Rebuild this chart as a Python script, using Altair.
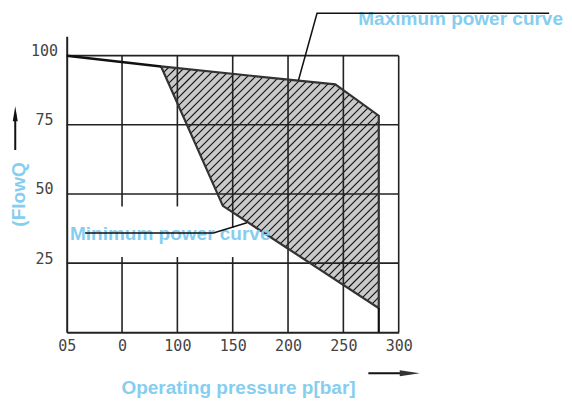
import altair as alt
import pandas as pd

BLUE = "#86cef0"
GRID = "#222222"

# ---- data ----
x_ticks = [0, 50, 100, 150, 200, 250, 300]
x_tick_labels = ["05", "0", "100", "150", "200", "250", "300"]
y_ticks = [25, 50, 75, 100]

# operating region polygon (pressure bar, flow %)
poly_x = [85.3, 242.7, 282.0, 282.0, 141.1]
poly_y = [96.1, 89.6, 78.3, 8.7, 45.7]

# flat start of curve and right-edge drop to axis
top_x = [0, 85.3]
top_y = [100, 96.1]
edge_x = [282.0, 282.0]
edge_y = [8.7, 0]

# vertical grid segments (with gaps behind the annotation)
vgrid_x = [50, 50, 100, 100, 150, 150, 200, 250, 300]
vgrid_y0 = [0, 45.5, 0, 45.5, 0, 37.7, 0, 0, 0]
vgrid_y1 = [27.2, 100, 27.2, 100, 27.2, 100, 100, 100, 100]

# leader lines
max_leader_x = [209.5, 226.2, 436.0]
max_leader_y = [91.2, 115.3, 115.3]
min_leader_x = [16.6, 132.6, 162.8]
min_leader_y = [35.9, 35.9, 39.6]

labels = ["Maximum power curve", "Minimum power curve"]
label_x = [263.5, 3.0]
label_y = [111.1, 33.4]

# axis arrows
yarrow_x = [-46.5, -46.5]
yarrow_y = [65.9, 79.0]
xarrow_x = [272.6, 310.0]
xarrow_y = [-14.8, -14.8]

W, H = 332, 296
XD = [0, 300]
YD = [0, 107]
SX, SY = W / XD[1], H / YD[1]

# ---- tables ----
poly_df = pd.DataFrame({"x": poly_x + poly_x[:1], "y": poly_y + poly_y[:1],
                        "o": list(range(len(poly_x) + 1))})
top_df = pd.DataFrame({"x": top_x, "y": top_y})
edge_df = pd.DataFrame({"x": edge_x, "y": edge_y})
hgrid_df = pd.DataFrame({"y": y_ticks, "x": [XD[0]] * len(y_ticks), "x2": [XD[1]] * len(y_ticks)})
vgrid_df = pd.DataFrame({"x": vgrid_x, "y": vgrid_y0, "y2": vgrid_y1})
lead_df = pd.DataFrame({
    "x": max_leader_x + min_leader_x,
    "y": max_leader_y + min_leader_y,
    "g": ["max"] * 3 + ["min"] * 3,
    "o": [0, 1, 2, 0, 1, 2],
})
lab_df = pd.DataFrame({"x": label_x, "y": label_y, "t": labels})
yarr_df = pd.DataFrame({"x": yarrow_x, "y": yarrow_y})
xarr_df = pd.DataFrame({"x": xarrow_x, "y": xarrow_y})

# hatch lines clipped to the polygon (45 deg on screen)
px = [v * SX for v in poly_x]
py = [v * SY for v in poly_y]
n = len(px)
d = [py[i] - px[i] for i in range(n)]
segs = []
c = min(d) + 3
while c < max(d):
    pts = []
    for i in range(n):
        j = (i + 1) % n
        fa, fb = d[i] - c, d[j] - c
        if (fa < 0) != (fb < 0):
            t = fa / (fa - fb)
            pts.append((px[i] + t * (px[j] - px[i]), py[i] + t * (py[j] - py[i])))
    if len(pts) >= 2:
        pts.sort()
        (xa, ya), (xb, yb) = pts[0], pts[-1]
        segs.append({"x": xa / SX, "y": ya / SY, "x2": xb / SX, "y2": yb / SY})
    c += 8
hatch_df = pd.DataFrame(segs)

xs = alt.Scale(domain=XD, nice=False, zero=False)
ys = alt.Scale(domain=YD, nice=False, zero=False)

lab_js = "[" + ",".join("'%s'" % s for s in x_tick_labels) + "]"
val_js = "[" + ",".join(str(v) for v in x_ticks) + "]"

x_axis = alt.Axis(
    values=x_ticks, labelExpr=f"{lab_js}[indexof({val_js}, datum.value)]",
    grid=False, ticks=False, tickSize=0, domainColor=GRID, domainWidth=2,
    labelFont="DejaVu Sans Mono", labelFontSize=15, labelColor="#444444",
    labelPadding=6, labelFlush=False, labelOverlap=False,
    title="Operating pressure p[bar]", titleFont="Liberation Sans",
    titleFontSize=19, titleFontWeight="bold", titleColor=BLUE,
    titleX=171.3, titleY=61, titleBaseline="alphabetic", titleAlign="center",
)
y_axis = alt.Axis(
    values=y_ticks, grid=False, ticks=False, tickSize=0, domainColor=GRID,
    domainWidth=2, labelFont="DejaVu Sans Mono", labelFontSize=15,
    labelColor="#444444", labelAlign="center", labelBaseline="alphabetic",
    labelPadding=22.7, labelFlush=False, labelOverlap=False,
    title="(FlowQ", titleFont="Liberation Sans", titleFontSize=19,
    titleFontWeight="bold", titleColor=BLUE, titleAngle=270,
    titleX=-48.5, titleY=157.7, titleBaseline="middle", titleAlign="center",
)


def X(f="x"):
    return alt.X(f"{f}:Q", scale=xs, axis=x_axis)


def Y(f="y"):
    return alt.Y(f"{f}:Q", scale=ys, axis=y_axis)


fill_layer = alt.Chart(poly_df).mark_line(fill="#cacaca", stroke="#cacaca", strokeWidth=0).encode(
    x=X(), y=Y(), order="o:Q",
)
hatch_layer = alt.Chart(hatch_df).mark_rule(color="#111111", strokeWidth=1.1).encode(
    x=X(), y=Y(), x2="x2:Q", y2="y2:Q",
)
hgrid_layer = alt.Chart(hgrid_df).mark_rule(color=GRID, strokeWidth=1.6).encode(
    x=X(), x2="x2:Q", y=Y(),
)
vgrid_layer = alt.Chart(vgrid_df).mark_rule(color=GRID, strokeWidth=1.6).encode(
    x=X(), y=Y(), y2="y2:Q",
)
outline_layer = alt.Chart(poly_df).mark_line(color="#333333", strokeWidth=2.2).encode(
    x=X(), y=Y(), order="o:Q",
)
top_layer = alt.Chart(top_df).mark_line(color="#111111", strokeWidth=2.5).encode(x=X(), y=Y())
edge_layer = alt.Chart(edge_df).mark_line(color="#111111", strokeWidth=2.2).encode(x=X(), y=Y())
text_layer = alt.Chart(lab_df).mark_text(
    align="left", baseline="alphabetic", font="Liberation Sans",
    fontSize=19, fontWeight="bold", color=BLUE, clip=False,
).encode(x=X(), y=Y(), text="t:N")
lead_layer = alt.Chart(lead_df).mark_line(color="#111111", strokeWidth=1.5, clip=False).encode(
    x=X(), y=Y(), detail="g:N", order="o:Q",
)
yarr_line = alt.Chart(yarr_df).mark_line(color="#111111", strokeWidth=2, clip=False).encode(x=X(), y=Y())
yarr_head = alt.Chart(yarr_df.tail(1)).mark_point(
    shape="M0,-1L0.33,1L-0.33,1Z", filled=True, color="#111111", size=225,
    opacity=1, clip=False,
).encode(x=X(), y=Y())
xarr_line = alt.Chart(xarr_df).mark_line(color="#111111", strokeWidth=2, clip=False).encode(x=X(), y=Y())
xarr_head = alt.Chart(xarr_df.tail(1)).mark_point(
    shape="M1,0L-1,-0.3L-1,0.3Z", filled=True, color="#333333", size=400,
    opacity=1, clip=False,
).encode(x=X(), y=Y())

chart = alt.layer(
    fill_layer, hatch_layer, hgrid_layer, vgrid_layer, outline_layer,
    top_layer, edge_layer, text_layer, lead_layer,
    yarr_line, yarr_head, xarr_line, xarr_head,
).properties(
    width=W, height=H,
    autosize=alt.AutoSizeParams(type="none"),
    padding={"left": 58.7, "top": 28.3, "right": 165.3, "bottom": 66.4},
).configure_view(strokeWidth=0)

chart.save("out.html", embed_options={"renderer": "svg", "actions": False})
